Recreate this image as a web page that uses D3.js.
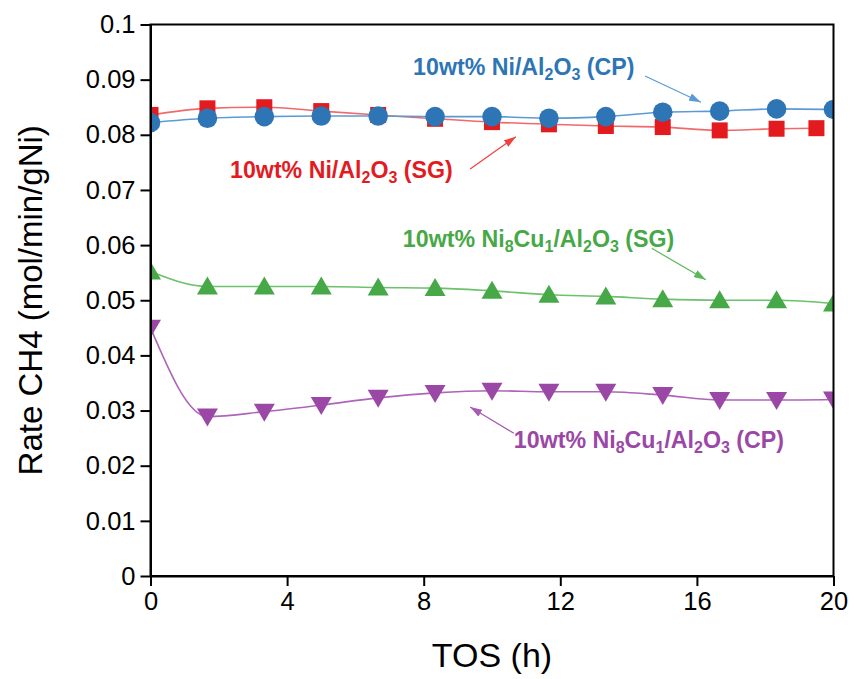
<!DOCTYPE html>
<html><head><meta charset="utf-8">
<script src="https://cdn.jsdelivr.net/npm/d3@7"></script>
<style>body{margin:0;background:#fff}svg{display:block}text{font-family:Arial,"Liberation Sans",sans-serif}</style>
</head><body>
<svg id="c" width="854" height="679"></svg>
<script>
// ---- data ----
const timeA = [0, 1.667, 3.333, 5, 6.667, 8.333, 10, 11.667, 13.333, 15, 16.667, 18.333, 20];
const timeB = [0, 1.667, 3.333, 5, 6.667, 8.333, 10, 11.667, 13.333, 15, 16.667, 18.333, 19.5];
const niCP    = [0.0822, 0.0830, 0.0833, 0.0834, 0.0834, 0.0833, 0.0833, 0.0830, 0.0833, 0.0841, 0.0843, 0.0847, 0.0846];
const niSG    = [0.0836, 0.0848, 0.0850, 0.0843, 0.0836, 0.0829, 0.0823, 0.0819, 0.0816, 0.0814, 0.0808, 0.0811, 0.0812];
const niCuSG  = [0.0552, 0.0525, 0.0525, 0.0525, 0.0523, 0.0522, 0.0517, 0.0510, 0.0507, 0.0502, 0.0500, 0.0500, 0.0494];
const niCuCP  = [0.0450, 0.0289, 0.0298, 0.0310, 0.0323, 0.0332, 0.0336, 0.0334, 0.0334, 0.0328, 0.0319, 0.0319, 0.0320];
const xTicks = [0, 4, 8, 12, 16, 20];
const yTicks = [0, 0.01, 0.02, 0.03, 0.04, 0.05, 0.06, 0.07, 0.08, 0.09, 0.1];
const xTitle = "TOS (h)";
const yTitle = "Rate CH4 (mol/min/gNi)";

// label text pieces: [text, isSub]
const labels = [
  {key:"cp",   parts:[["10wt% Ni/Al",0],["2",1],["O",0],["3",1],[" (CP)",0]], at:[7.69,0.09084], arrow:[[14.48,0.09066],[16.12,0.08590]]},
  {key:"sg",   parts:[["10wt% Ni/Al",0],["2",1],["O",0],["3",1],[" (SG)",0]], at:[2.33,0.07223], arrow:[[9.36,0.0738],[10.70,0.07966]]},
  {key:"cusg", parts:[["10wt% Ni",0],["8",1],["Cu",0],["1",1],["/Al",0],["2",1],["O",0],["3",1],[" (SG)",0]], at:[7.39,0.05971], arrow:[[14.68,0.05942],[16.26,0.0537]]},
  {key:"cucp", parts:[["10wt% Ni",0],["8",1],["Cu",0],["1",1],["/Al",0],["2",1],["O",0],["3",1],[" (CP)",0]], at:[10.64,0.02315], arrow:[[10.64,0.02587],[9.36,0.03065]]}
];

const series = [
  {key:"sg",   t:timeB, v:niSG,   marker:"square",   fill:"#E31B1F", line:"#F06A6A"},
  {key:"cp",   t:timeA, v:niCP,   marker:"circle",   fill:"#2E75B6", line:"#5B9BD5"},
  {key:"cusg", t:timeA, v:niCuSG, marker:"triangle", fill:"#47A847", line:"#6CC16C"},
  {key:"cucp", t:timeA, v:niCuCP, marker:"triangle-down", fill:"#9B47A6", line:"#AE64B8"}
];
const labelColor = {cp:"#2E75B6", sg:"#E31B1F", cusg:"#47A847", cucp:"#9B47A6"};
const arrowColor = {cp:"#5B9BD5", sg:"#F04040", cusg:"#5CB85C", cucp:"#A85AB4"};

// ---- chart ----
const svg = d3.select("#c");
const L = 150.5, R = 833.5, T = 24.5, B = 576;
const x = d3.scaleLinear().domain([0, 20]).range([L, R]);
const y = d3.scaleLinear().domain([0, 0.1]).range([B, T]);

const defs = svg.append("defs");
defs.append("clipPath").attr("id","clip").append("rect")
  .attr("x", L).attr("y", T).attr("width", R-L).attr("height", B-T);
Object.entries(arrowColor).forEach(([k,c]) => {
  defs.append("marker").attr("id","ah-"+k).attr("viewBox","0 0 12 8")
    .attr("refX",12).attr("refY",4).attr("markerWidth",12).attr("markerHeight",8)
    .attr("markerUnits","userSpaceOnUse").attr("orient","auto")
    .append("path").attr("d","M0,0L12,4L0,8Z").attr("fill",c);
});

const plot = svg.append("g").attr("clip-path","url(#clip)");

const line = d3.line().curve(d3.curveMonotoneX);
series.forEach(s => {
  const pts = s.t.map((t,i) => [x(t), y(s.v[i])]);
  plot.append("path").attr("d", line(pts)).attr("fill","none")
    .attr("stroke", s.line).attr("stroke-width", 1.6);
});
series.forEach(s => {
  const g = plot.append("g").attr("fill", s.fill);
  s.t.forEach((t,i) => {
    const cx = x(t), cy = y(s.v[i]);
    if (s.marker === "circle") {
      g.append("circle").attr("cx",cx).attr("cy",cy).attr("r",9.8);
    } else if (s.marker === "square") {
      g.append("rect").attr("x",cx-8).attr("y",cy-8).attr("width",16).attr("height",16);
    } else if (s.marker === "triangle") {
      g.append("path").attr("d",`M${cx},${cy-10}L${cx+10.5},${cy+8}L${cx-10.5},${cy+8}Z`);
    } else {
      g.append("path").attr("d",`M${cx},${cy+10}L${cx+10.5},${cy-8}L${cx-10.5},${cy-8}Z`);
    }
  });
});

// frame
svg.append("rect").attr("x",L).attr("y",T).attr("width",R-L).attr("height",B-T)
  .attr("fill","none").attr("stroke","#000").attr("stroke-width",2);

const fmtY = d => d === 0 ? "0" : String(+d.toFixed(2));
const yAxis = svg.append("g").attr("transform",`translate(${L},0)`)
  .call(d3.axisLeft(y).tickValues(yTicks).tickFormat(fmtY).tickSize(10).tickSizeOuter(0).tickPadding(5));
const xAxis = svg.append("g").attr("transform",`translate(0,${B})`)
  .call(d3.axisBottom(x).tickValues(xTicks).tickFormat(d3.format("d")).tickSize(10).tickSizeOuter(0).tickPadding(6));
[yAxis, xAxis].forEach(a => {
  a.select(".domain").attr("stroke","#000").attr("stroke-width",2);
  a.selectAll(".tick line").attr("stroke","#000").attr("stroke-width",2);
  a.selectAll(".tick text").attr("fill","#000").style("font-size","25.5px")
    .style("font-family","Arial, 'Liberation Sans', sans-serif");
});

// titles
svg.append("text").attr("x",(L+R)/2).attr("y",667).attr("text-anchor","middle")
  .style("font-size","34px").attr("fill","#000").text(xTitle);
svg.append("text").attr("transform",`translate(42,${(T+B)/2}) rotate(-90)`)
  .attr("text-anchor","middle").style("font-size","33px").attr("fill","#000").text(yTitle);

// annotations
labels.forEach(lb => {
  const t = svg.append("text").attr("x", x(lb.at[0])).attr("y", y(lb.at[1]))
    .attr("fill", labelColor[lb.key]).style("font-size","23.2px").style("font-weight","bold");
  let down = false;
  lb.parts.forEach(([txt, sub]) => {
    const ts = t.append("tspan").text(txt);
    if (sub && !down) { ts.attr("dy", 5).style("font-size","16px"); down = true; }
    else if (sub) { ts.style("font-size","16px"); }
    else if (down) { ts.attr("dy", -5); down = false; }
  });
  const [a, b] = lb.arrow;
  svg.append("line").attr("x1",x(a[0])).attr("y1",y(a[1])).attr("x2",x(b[0])).attr("y2",y(b[1]))
    .attr("stroke", arrowColor[lb.key]).attr("stroke-width",1.2)
    .attr("marker-end",`url(#ah-${lb.key})`);
});
</script>
</body></html>
